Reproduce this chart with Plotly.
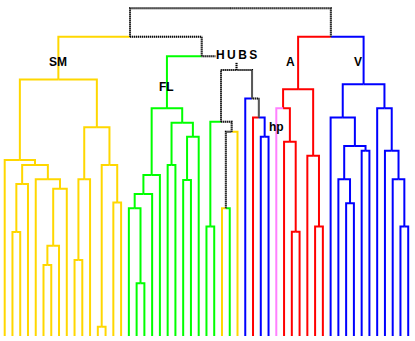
import plotly.graph_objects as go

# ---- data ----
leaf_class = (["SM"] * 16 + ["FL"] * 12 +
              ["SM", "FL", "SM", "V", "A", "V", "V", "hp"] +
              ["A"] * 6 + ["V"] * 11)

merge_left = [1, 53, 5, 55, 56, 4, 54, 0, 9, 61, 12, 14, 63, 62, 60,
              17, 16, 69, 70, 21, 23, 73, 72, 71,
              26, 28, 78, 77, 33, 32, 31, 80, 76, 67,
              37, 36, 35, 40, 39, 89,
              44, 43, 46, 94, 42, 51, 50, 49, 48, 97, 92, 86]
merge_right = [2, 3, 6, 7, 8, 57, 58, 59, 10, 11, 13, 15, 64, 65, 66,
               18, 68, 19, 20, 22, 24, 25, 74, 75,
               27, 29, 30, 79, 34, 81, 82, 83, 84, 85,
               38, 87, 88, 41, 90, 91,
               45, 93, 47, 95, 96, 52, 98, 99, 100, 101, 102, 103]
merge_height = [0.317, 0.464, 0.217, 0.275, 0.449, 0.478, 0.522, 0.537, 0.232, 0.478,
                0.028, 0.407, 0.522, 0.637, 0.783,
                0.161, 0.390, 0.433, 0.491, 0.522, 0.476, 0.608, 0.651, 0.695,
                0.334, 0.390, 0.623, 0.654, 0.608, 0.667, 0.725, 0.812, 0.854, 0.913,
                0.318, 0.593, 0.695, 0.334, 0.550, 0.753,
                0.405, 0.478, 0.565, 0.580, 0.667, 0.334, 0.478, 0.565, 0.695,
                0.768, 0.913, 1.0]

group_labels = ["SM", "FL", "H\u2009U\u2009B\u2009S", "A", "V", "hp"]

class_colors = {"SM": "#FFD700", "FL": "#00FF00", "A": "#FF0000",
                "V": "#0000FF", "hp": "#FF80FF"}

# ---- build tree ----
n_leaves = len(leaf_class)
node_x = [float(v) for v in range(n_leaves)]
node_h = [0.0] * n_leaves
node_c = list(leaf_class)


def merge_class(a, b):
    if a == b:
        return a
    if {a, b} == {"A", "hp"}:
        return "A"
    return "mix"


segs = {}
for l, r, h in zip(merge_left, merge_right, merge_height):
    xm = (node_x[l] + node_x[r]) / 2
    for c in (l, r):
        key = node_c[c]
        xs, ys = segs.setdefault(key, ([], []))
        xs += [node_x[c], node_x[c], xm, None]
        ys += [node_h[c], h, h, None]
    node_x.append(xm)
    node_h.append(h)
    node_c.append(merge_class(node_c[l], node_c[r]))

fig = go.Figure()
for key in ["SM", "FL", "A", "V", "hp"]:
    if key in segs:
        xs, ys = segs[key]
        fig.add_trace(go.Scatter(x=xs, y=ys, mode="lines",
                                 line=dict(color=class_colors[key], width=2),
                                 hoverinfo="skip", showlegend=False))
xs, ys = segs["mix"]
fig.add_trace(go.Scatter(x=xs, y=ys, mode="lines",
                         line=dict(color="#b0b0b0", width=2),
                         hoverinfo="skip", showlegend=False))
fig.add_trace(go.Scatter(x=xs, y=ys, mode="lines",
                         line=dict(color="#000000", width=2, dash="1px,1px"),
                         hoverinfo="skip", showlegend=False))

# ---- labels ----
font = dict(family="Liberation Sans, Arial", size=12, color="black")
label_specs = [
    (group_labels[0], node_x[67], 0.836, "center", 0, None),
    (group_labels[1], node_x[76], 0.759, "center", 0, None),
    (group_labels[2], node_x[84], 0.857, "center", 0, "white"),
    (group_labels[3], node_x[92], 0.837, "right", -2, None),
    (group_labels[4], node_x[102], 0.837, "right", -1, None),
    (group_labels[5], node_x[35], 0.638, "center", 0, None),
]
for text, x, y, xa, xs_, bg in label_specs:
    fig.add_annotation(x=x, y=y, text="<b>%s</b>" % text, showarrow=False,
                       xanchor=xa, yanchor="middle", xshift=xs_, font=font,
                       bgcolor=bg if bg else "rgba(0,0,0,0)", borderpad=0)

fig.update_layout(
    width=415, height=341,
    margin=dict(l=0, r=0, t=0, b=0),
    paper_bgcolor="white", plot_bgcolor="white",
    xaxis=dict(range=[-0.606, 52.874], visible=False, fixedrange=True),
    yaxis=dict(range=[-0.0153, 1.0253], visible=False, fixedrange=True),
)

fig.write_html("out.html", config={"displayModeBar": False},
               post_script="document.body.style.margin='0';document.body.style.overflow='hidden';")
